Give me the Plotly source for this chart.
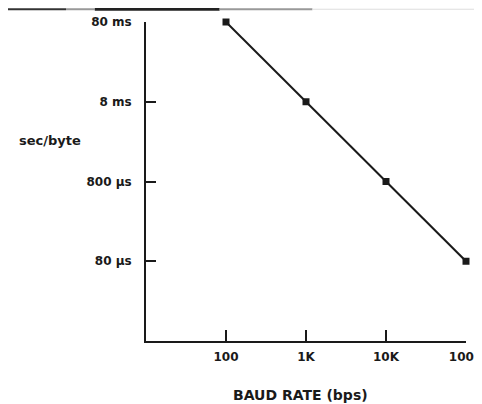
import plotly.graph_objects as go

baud_rate = [100, 1000, 10000, 100000]
sec_per_byte = [0.08, 0.008, 0.0008, 0.00008]
x_tick_vals = [100, 1000, 10000, 100000]
x_tick_text = ["100", "1K", "10K", "100K"]
y_tick_vals = [0.00008, 0.0008, 0.008, 0.08]
y_tick_text = ["80 \u00b5s", "800 \u00b5s", "8 ms", "80 ms"]

FONT = "DejaVu Sans"
INK = "#1a1a1a"

fig = go.Figure()
fig.add_trace(go.Scatter(
    x=baud_rate, y=sec_per_byte, mode="lines+markers",
    line=dict(color=INK, width=2),
    marker=dict(color=INK, size=7, symbol="square"),
    showlegend=False, cliponaxis=False,
))

fig.update_xaxes(
    type="log", range=[1, 5], tickvals=x_tick_vals, ticktext=x_tick_text,
    ticks="inside", ticklen=11, tickwidth=1.5, tickcolor=INK,
    showline=True, linecolor=INK, linewidth=1.8, showgrid=False, zeroline=False,
    tickfont=dict(family=FONT, size=12, color=INK, weight="bold"), ticklabelstandoff=4,
    ticklabeloverflow="allow", automargin=False,
)
fig.update_yaxes(
    type="log", range=[-5.0969, -1.0969], tickvals=y_tick_vals, ticktext=y_tick_text,
    ticks="inside", ticklen=10, tickwidth=1.5, tickcolor=INK,
    showline=True, linecolor=INK, linewidth=1.8, showgrid=False, zeroline=False,
    tickfont=dict(family=FONT, size=12, color=INK, weight="bold"), ticklabelstandoff=10,
    automargin=False,
)

fig.update_layout(
    width=474, height=396,
    margin=dict(l=138, r=16, t=14, b=63),
    paper_bgcolor="white", plot_bgcolor="white",
    annotations=[
        dict(text="sec/byte", x=-0.3, y=0.63, xref="paper", yref="paper",
             xanchor="center", yanchor="middle", showarrow=False,
             font=dict(family=FONT, size=13, color=INK, weight="bold")),
        dict(text="BAUD RATE (bps)", x=0.484, y=-0.169, xref="paper", yref="paper",
             xanchor="center", yanchor="middle", showarrow=False,
             font=dict(family=FONT, size=14, color=INK, weight="bold")),
    ],
    shapes=[
        dict(type="line", xref="paper", yref="paper", x0=-0.44, x1=-0.25, y0=1.04, y1=1.04,
             line=dict(color="#333", width=2)),
        dict(type="line", xref="paper", yref="paper", x0=-0.25, x1=-0.16, y0=1.04, y1=1.04,
             line=dict(color="#999", width=2)),
        dict(type="line", xref="paper", yref="paper", x0=-0.16, x1=0.23, y0=1.04, y1=1.04,
             line=dict(color="#222", width=3)),
        dict(type="line", xref="paper", yref="paper", x0=0.23, x1=0.52, y0=1.04, y1=1.04,
             line=dict(color="#999", width=2)),
        dict(type="line", xref="paper", yref="paper", x0=0.52, x1=1.05, y0=1.04, y1=1.04,
             line=dict(color="#ddd", width=1)),
    ],
)

fig.write_html("out.html")
